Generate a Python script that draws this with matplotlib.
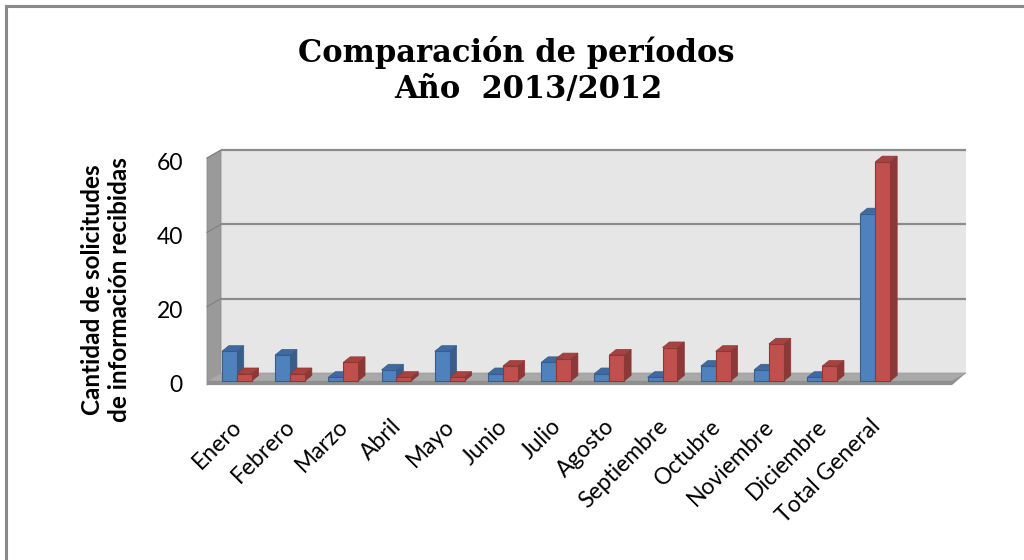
import matplotlib
matplotlib.use("Agg")
import matplotlib.pyplot as plt
from matplotlib.patches import Polygon
from matplotlib.lines import Line2D
from matplotlib.transforms import offset_copy
import numpy as np

# Data
meses = ["Enero", "Febrero", "Marzo", "Abril", "Mayo", "Junio", "Julio",
         "Agosto", "Septiembre", "Octubre", "Noviembre", "Diciembre",
         "Total General"]
serie_2013 = [8, 7, 1, 3, 8, 2, 5, 2, 1, 4, 3, 1, 45]
serie_2012 = [2, 2, 5, 1, 1, 4, 6, 7, 9, 8, 10, 4, 59]
y_ticks = [0, 20, 40, 60]

font = "Lato"
W, H = 1024, 560
fig = plt.figure(figsize=(W / 100, H / 100), dpi=100)

# outer frame (only left and top visible in the original)
fig.add_artist(Line2D([6 / W, 6 / W], [0, 1 - 6 / H], color="#8a8a8a", lw=2.2,
                      transform=fig.transFigure))
fig.add_artist(Line2D([6 / W, 1], [1 - 6 / H, 1 - 6 / H], color="#8a8a8a", lw=2.2,
                      transform=fig.transFigure))

# axes = front plane of the 3D box
left, right, y0, y60 = 207, 952, 381, 158
ax = fig.add_axes([left / W, (H - y0) / H, (right - left) / W, (y0 - y60) / H])
ax.set_xlim(-0.5, 13.5)
ax.set_ylim(0, 60)
ax.patch.set_visible(False)
for s in ax.spines.values():
    s.set_visible(False)

# depth offsets in data units
wx, wy = 0.263, 2.15      # wall depth
bx, by = 0.13, 1.5        # bar depth
xa, xb = -0.5, 13.5

# back wall
ax.add_patch(Polygon([(xa + wx, wy), (xb + wx, wy), (xb + wx, 60 + wy), (xa + wx, 60 + wy)],
                     closed=True, facecolor="#e6e6e6", edgecolor="none", clip_on=False, zorder=0))
# left wall
ax.add_patch(Polygon([(xa, -1.1), (xa, 60), (xa + wx, 60 + wy), (xa + wx, wy)],
                     closed=True, facecolor="#9a9a9a", edgecolor="#8c8c8c", lw=0.6,
                     clip_on=False, zorder=1))
# floor
ax.add_patch(Polygon([(xa, 0), (xb, 0), (xb + wx, wy), (xa + wx, wy)],
                     closed=True, facecolor="#a9a9a9", edgecolor="#999999", lw=0.5,
                     clip_on=False, zorder=1))
ax.add_patch(Polygon([(xa, -1.1), (xb, -1.1), (xb + wx, wy), (xb, 0), (xa, 0)],
                     closed=True, facecolor="#8f8f8f", edgecolor="none",
                     clip_on=False, zorder=1))

# gridlines on the walls
for v in y_ticks[1:]:
    ax.plot([xa + wx, xb + wx], [v + wy, v + wy], color="#8c8c8c", lw=1.6,
            clip_on=False, zorder=1, solid_capstyle="butt")
    ax.plot([xa, xa + wx], [v, v + wy], color="#7f7f7f", lw=0.8,
            clip_on=False, zorder=2)

# bars with side and top faces
x = np.arange(len(meses))
bw = 0.28
series = [
    (serie_2013, -0.22, "#4f81bd", "#385d8a", "#3f6aa0"),
    (serie_2012, 0.06, "#c0504d", "#8c3836", "#a8423f"),
]
for vals, off, c_front, c_side, c_top in series:
    bars = ax.bar(x + off, vals, width=bw, align="edge", color=c_front,
                  edgecolor=c_side, linewidth=0.8, zorder=4, clip_on=False)
    for b in bars:
        x1, h = b.get_x(), b.get_height()
        x2 = x1 + b.get_width()
        ax.add_patch(Polygon([(x2, 0), (x2 + bx, by), (x2 + bx, h + by), (x2, h)],
                             closed=True, facecolor=c_side, edgecolor=c_side, lw=0.5,
                             zorder=3, clip_on=False))
        ax.add_patch(Polygon([(x1, h), (x2, h), (x2 + bx, h + by), (x1 + bx, h + by)],
                             closed=True, facecolor=c_top, edgecolor=c_side, lw=0.5,
                             zorder=3, clip_on=False))

# y tick labels, drawn as text so they sit a little below the gridline level
ax.set_yticks([])
ylab_tr = offset_copy(ax.transData, fig=fig, x=-24, y=-5, units="dots")
for v in y_ticks:
    ax.text(xa, v, str(v), transform=ylab_tr, ha="right", va="center",
            fontsize=16.5, family=font, clip_on=False)

ax.set_xticks(x - 0.05)
ax.set_xticklabels(meses, rotation=45, ha="right", va="top", rotation_mode="anchor",
                   fontsize=16.5, family=font)
ax.tick_params(axis="x", length=0, pad=25)

fig.text(106 / W, 1 - 290 / H, "Cantidad de solicitudes\nde información recibidas",
         rotation=90, ha="center", va="center", fontsize=17.5, fontweight="bold",
         family=font, linespacing=1.25)

# title, two lines
fig.text(516 / W, 1 - 62 / H, "Comparación de períodos", ha="center", va="baseline",
         fontsize=22, fontweight="bold", family="DejaVu Serif")
fig.text(528 / W, 1 - 98 / H, "Año  2013/2012", ha="center", va="baseline",
         fontsize=22, fontweight="bold", family="DejaVu Serif")

fig.savefig("out.png", dpi=100)
